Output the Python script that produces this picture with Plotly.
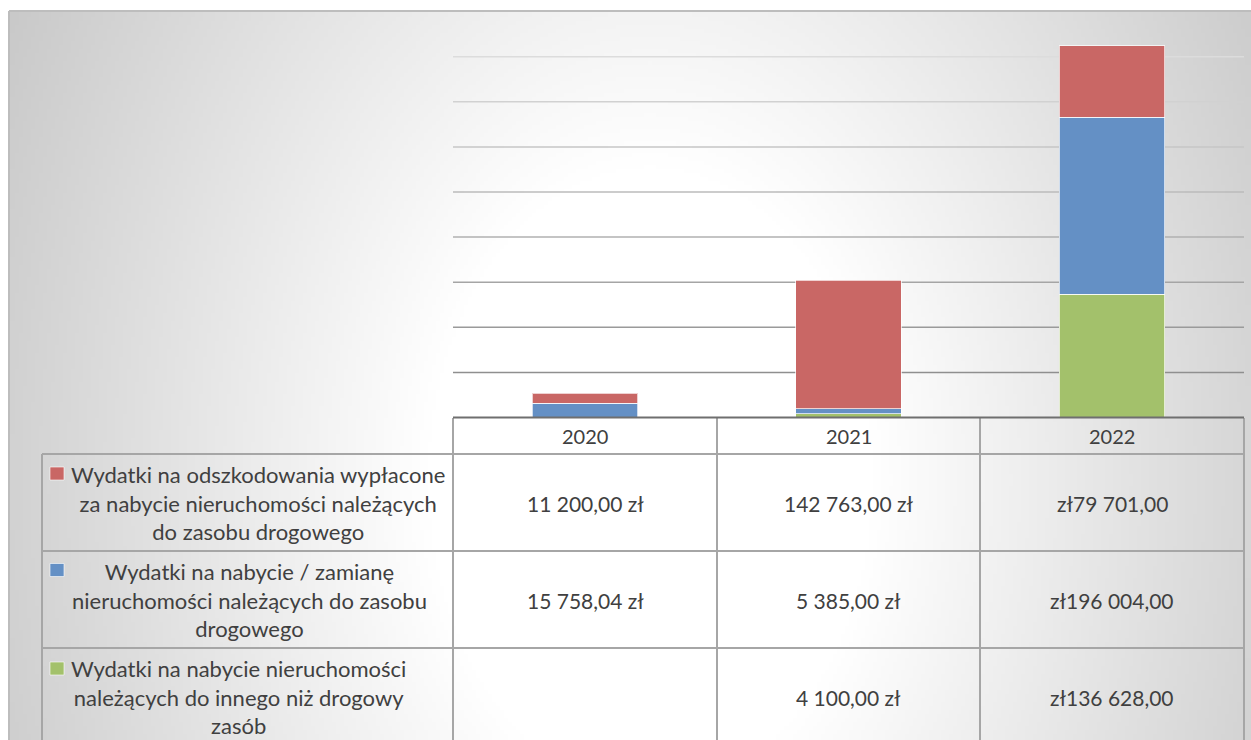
import base64
import struct
import zlib

import numpy as np
import plotly.graph_objects as go

# ---------------- data ----------------
years = ["2020", "2021", "2022"]
series_names = [
    "Wydatki na odszkodowania wypłacone<br>za nabycie nieruchomości należących<br>do zasobu drogowego",
    "Wydatki na nabycie / zamianę<br>nieruchomości należących do zasobu<br>drogowego",
    "Wydatki na nabycie nieruchomości<br>należących do innego niż drogowy<br>zasób",
]
odszkodowania = [11200.00, 142763.00, 79701.00]
nabycie_zamiana = [15758.04, 5385.00, 196004.00]
nabycie_inne = [None, 4100.00, 136628.00]
# currency-symbol position used in each year's column of the data table
currency_position = ["suffix", "suffix", "prefix"]

# ---------------- style ----------------
W, H = 1251, 740
RED = "#c96765"
BLUE = "#6490c5"
GREEN = "#a3c16b"
TXT = "#404040"
FONT = "Lato, Carlito, Calibri, 'Open Sans', sans-serif"


def X(px):
    return px / W


def Y(py):
    return 1 - py / H


def fmt(v, pos):
    if v is None:
        return ""
    s = f"{v:,.2f}".replace(",", " ").replace(".", ",")
    return f"{s} zł" if pos == "suffix" else f"zł{s}"


# ---------- background radial gradient as PNG ----------
def make_png(gray):
    h, w = gray.shape
    raw = b"".join(b"\x00" + gray[i].tobytes() for i in range(h))

    def chunk(tag, data):
        c = struct.pack(">I", len(data)) + tag + data
        return c + struct.pack(">I", zlib.crc32(tag + data) & 0xFFFFFFFF)

    png = b"\x89PNG\r\n\x1a\n"
    png += chunk(b"IHDR", struct.pack(">IIBBBBB", w, h, 8, 0, 0, 0, 0))
    png += chunk(b"IDAT", zlib.compress(raw, 9))
    png += chunk(b"IEND", b"")
    return "data:image/png;base64," + base64.b64encode(png).decode()


bx0, by0, bx1, by1 = 9, 11, W, H
scale = 4
gw, gh = (bx1 - bx0) // scale, (by1 - by0) // scale
xs = bx0 + (np.arange(gw) + 0.5) * (bx1 - bx0) / gw
ys = by0 + (np.arange(gh) + 0.5) * (by1 - by0) / gh
XX, YY = np.meshgrid(xs, ys)
d = np.sqrt(((XX - 650) / 640) ** 2 + ((YY - 480) / 900) ** 2)
val = 255 - np.clip((d - 0.35) / 0.65 * 45, 0, 60)
bg_src = make_png(val.astype(np.uint8))

# ---------------- figure ----------------
fig = go.Figure()
for name, vals, col in [
    ("inne", nabycie_inne, GREEN),
    ("zamiana", nabycie_zamiana, BLUE),
    ("odszkodowania", odszkodowania, RED),
]:
    fig.add_trace(
        go.Bar(
            x=years,
            y=vals,
            name=name,
            marker=dict(color=col, line=dict(color="rgba(255,255,255,0.7)", width=1)),
            showlegend=False,
            hoverinfo="skip",
        )
    )

plot_left, plot_right = 453, 1244
y_zero, y_top = 417.5, 11.6

fig.update_layout(
    width=W,
    height=H,
    margin=dict(l=0, r=0, t=0, b=0),
    paper_bgcolor="white",
    plot_bgcolor="rgba(0,0,0,0)",
    barmode="stack",
    bargap=0.6,
    xaxis=dict(
        domain=[X(plot_left), X(plot_right)],
        showticklabels=False,
        showgrid=False,
        zeroline=False,
        showline=False,
        fixedrange=True,
    ),
    yaxis=dict(
        domain=[Y(y_zero), Y(y_top)],
        range=[0, 450000],
        showticklabels=False,
        showgrid=False,
        zeroline=False,
        fixedrange=True,
    ),
    images=[
        dict(
            source=bg_src,
            xref="paper",
            yref="paper",
            x=X(bx0),
            y=Y(by0),
            sizex=(bx1 - bx0) / W,
            sizey=(by1 - by0) / H,
            xanchor="left",
            yanchor="top",
            sizing="stretch",
            layer="below",
        )
    ],
)

shapes = []
# gridlines (shade darkens towards the axis)
light = np.array([0xDC, 0xDC, 0xDC])
dark = np.array([0x8F, 0x8F, 0x8F])
for k in range(1, 9):
    t = (k - 1) / 7
    c = (dark + (light - dark) * t).astype(int)
    shapes.append(
        dict(
            type="line",
            xref="x domain",
            yref="y",
            x0=0,
            x1=1,
            y0=k * 50000,
            y1=k * 50000,
            line=dict(color=f"rgb({c[0]},{c[1]},{c[2]})", width=1.5),
            layer="below",
        )
    )

# chart area border (top and left)
shapes.append(dict(type="line", xref="paper", yref="paper", x0=X(9), x1=1, y0=Y(11), y1=Y(11),
                   line=dict(color="#bdbdbd", width=2)))
shapes.append(dict(type="line", xref="paper", yref="paper", x0=X(9), x1=X(9), y0=Y(11), y1=0,
                   line=dict(color="#bdbdbd", width=2)))

# data table lines
tcol = "#a6a6a6"
col_edges = [453, 717, 980, 1244]
row_edges = [454, 551, 648]
for xe in col_edges:
    shapes.append(dict(type="line", xref="paper", yref="paper", x0=X(xe), x1=X(xe), y0=Y(418), y1=0,
                       line=dict(color=tcol, width=2)))
shapes.append(dict(type="line", xref="paper", yref="paper", x0=X(42), x1=X(42), y0=Y(454), y1=0,
                   line=dict(color=tcol, width=2)))
for ye in row_edges:
    shapes.append(dict(type="line", xref="paper", yref="paper", x0=X(42), x1=X(1244), y0=Y(ye), y1=Y(ye),
                       line=dict(color=tcol, width=2)))
# axis line
shapes.append(dict(type="line", xref="paper", yref="paper", x0=X(453), x1=X(1244), y0=Y(417.5), y1=Y(417.5),
                   line=dict(color="#6f6f6f", width=2)))

# legend keys
row_centers = [503, 600, 697]
key_y = [473.5, 570, 668.5]
for ky, col in zip(key_y, [RED, BLUE, GREEN]):
    shapes.append(dict(type="rect", xref="paper", yref="paper", x0=X(50), x1=X(64), y0=Y(ky - 6.5), y1=Y(ky + 6.5),
                       fillcolor=col, line=dict(color="rgba(255,255,255,0.6)", width=1)))

fig.update_layout(shapes=shapes)

ann = []
col_centers = [(col_edges[i] + col_edges[i + 1]) / 2 for i in range(3)]
for yr, cx in zip(years, col_centers):
    ann.append(dict(text=yr, x=X(cx), y=Y(436), xref="paper", yref="paper", showarrow=False,
                    xanchor="center", yanchor="middle", font=dict(family=FONT, size=20, color=TXT)))
text_centers = [258, 249, 239]
for name, cy, tx in zip(series_names, row_centers, text_centers):
    ann.append(dict(text=name, x=X(tx), y=Y(cy), xref="paper", yref="paper", showarrow=False,
                    xanchor="center", yanchor="middle", align="center",
                    font=dict(family=FONT, size=22, color=TXT)))
for vals, cy in zip([odszkodowania, nabycie_zamiana, nabycie_inne], row_centers):
    for v, cx, pos in zip(vals, col_centers, currency_position):
        lab = fmt(v, pos)
        if lab:
            ann.append(dict(text=lab, x=X(cx), y=Y(cy), xref="paper", yref="paper", showarrow=False,
                            xanchor="center", yanchor="middle",
                            font=dict(family=FONT, size=21, color=TXT)))
fig.update_layout(annotations=ann)

# remove the browser's default page margin so the figure sits at the window origin
fig.write_html(
    "out.html",
    config={"displayModeBar": False},
    post_script="document.body.style.margin='0';",
)
